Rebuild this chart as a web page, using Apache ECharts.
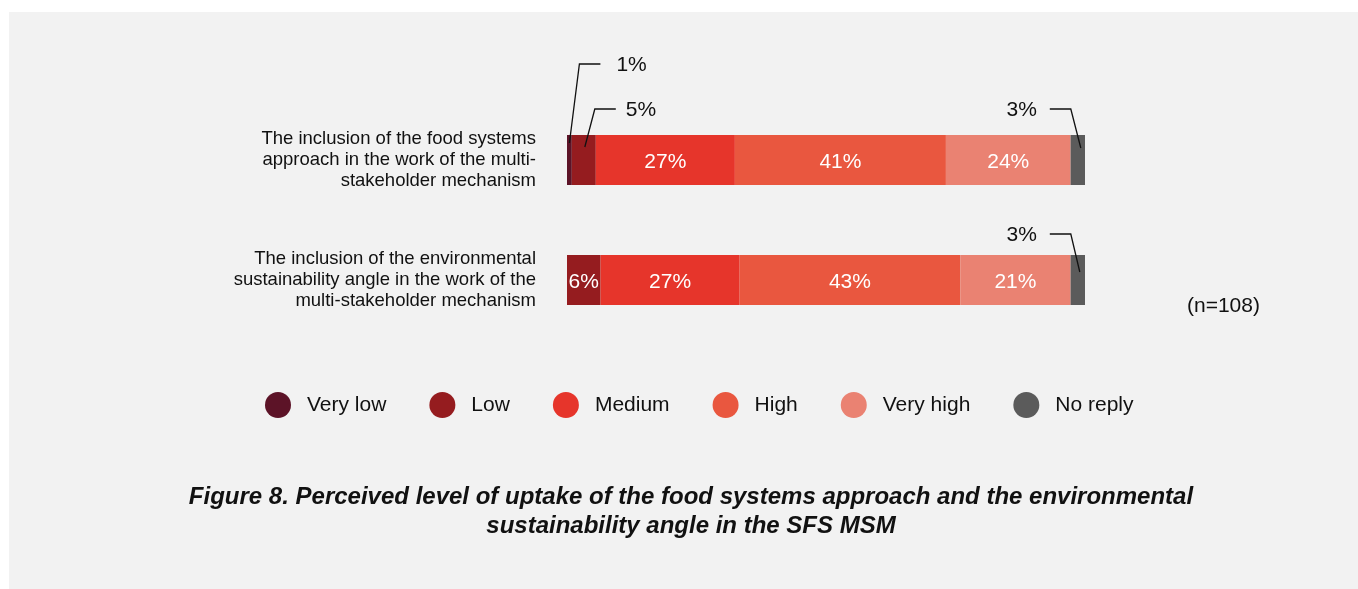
<!DOCTYPE html>
<html>
<head>
<meta charset="utf-8">
<script src="https://cdn.jsdelivr.net/npm/echarts@6/dist/echarts.min.js"></script>
<style>
  html, body { margin: 0; padding: 0; background: #ffffff; }
  #panel { position: absolute; left: 9px; top: 12px; width: 1349px; height: 577px; background: #f2f2f2; }
  #chart { position: absolute; left: 0; top: 0; width: 1358px; height: 589px; }
</style>
</head>
<body>
<div id="panel"></div>
<div id="chart"></div>
<script>
// ---- data ----
const categories = [
  "The inclusion of the food systems\napproach in the work of the multi-\nstakeholder mechanism",
  "The inclusion of the environmental\nsustainability angle in the work of the\nmulti-stakeholder mechanism"
];
const seriesNames = ["Very low", "Low", "Medium", "High", "Very high", "No reply"];
const veryLow  = [0.93, 0];
const low      = [4.63, 6.48];
const medium   = [26.85, 26.85];
const high     = [40.74, 42.59];
const veryHigh = [24.07, 21.30];
const noReply  = [2.78, 2.78];
const seriesValues = [veryLow, low, medium, high, veryHigh, noReply];
const colors = ["#5c1327", "#951c1f", "#e6352b", "#e9573f", "#ea8272", "#5b5b5b"];
const titleText = "Figure 8. Perceived level of uptake of the food systems approach and the environmental\nsustainability angle in the SFS MSM";
const noteText = "(n=108)";

// callouts for narrow segments (series index, row index, geometry offsets)
const callouts = [
  { s: 0, r: 0, ax: 0,  ay: 8,  ex: 10, ey: -71, len: 21,  tx: 16, dir: 1 },
  { s: 1, r: 0, ax: 1,  ay: 12, ex: 11, ey: -26, len: 21,  tx: 10, dir: 1 },
  { s: 5, r: 0, ax: 3,  ay: 13, ex: -7, ey: -26, len: -21, tx: -13, dir: -1 },
  { s: 5, r: 1, ax: 2,  ay: 17, ex: -7, ey: -21, len: -21, tx: -13, dir: -1 }
];

const FONT = "Arial, 'Liberation Sans', Helvetica, sans-serif";
const BAR_W = 50;
const chart = echarts.init(document.getElementById('chart'));

const series = seriesNames.map((name, i) => ({
  name: name,
  type: 'bar',
  stack: 'total',
  barWidth: BAR_W,
  data: seriesValues[i],
  itemStyle: { color: colors[i] },
  label: {
    show: true,
    position: 'inside',
    offset: [0, 2],
    color: '#ffffff',
    fontSize: 21,
    fontFamily: FONT,
    formatter: p => (p.value >= 5.5 ? Math.round(p.value) + '%' : '')
  },
  emphasis: { disabled: true },
  animation: false
}));

chart.setOption({
  backgroundColor: 'transparent',
  animation: false,
  title: {
    text: titleText,
    left: 686,
    top: 478,
    textAlign: 'center',
    textStyle: {
      fontFamily: FONT, fontSize: 24, fontWeight: 'bold', fontStyle: 'italic',
      color: '#111111', lineHeight: 29
    }
  },
  legend: {
    data: seriesNames,
    left: 265,
    top: 392,
    padding: 0,
    icon: 'circle',
    itemWidth: 26,
    itemHeight: 26,
    itemGap: 43,
    selectedMode: false,
    textStyle: { fontFamily: FONT, fontSize: 21, color: '#111111', padding: [0, 0, 0, 11] }
  },
  grid: { left: 567, right: 273, top: 100, height: 240, containLabel: false },
  xAxis: { type: 'value', min: 0, max: 100, show: false },
  yAxis: {
    type: 'category',
    data: categories,
    inverse: true,
    axisLine: { show: false },
    axisTick: { show: false },
    axisLabel: {
      margin: 31,
      fontFamily: FONT, fontSize: 18.5, lineHeight: 21, color: '#111111', align: 'right'
    }
  },
  series: series
});

// compute callout graphics from the library's scales
const graphics = [];
callouts.forEach(c => {
  let start = 0;
  for (let k = 0; k < c.s; k++) start += seriesValues[k][c.r];
  const v = seriesValues[c.s][c.r];
  const mid = chart.convertToPixel({ gridIndex: 0 }, [start + v / 2, c.r]);
  const top = mid[1] - BAR_W / 2;
  const a = [mid[0] + c.ax, top + c.ay];
  const e = [mid[0] + c.ex, top + c.ey];
  const end = [e[0] + c.len, e[1]];
  graphics.push({
    type: 'polyline',
    z: 100,
    shape: { points: [a, e, end] },
    style: { stroke: '#111111', lineWidth: 1.3, fill: null },
    silent: true
  });
  graphics.push({
    type: 'text',
    z: 100,
    x: end[0] + c.tx,
    y: e[1] + 1,
    style: {
      text: Math.round(v) + '%',
      fontFamily: FONT, fontSize: 21, fill: '#111111',
      align: c.dir > 0 ? 'left' : 'right',
      verticalAlign: 'middle'
    },
    silent: true
  });
});
graphics.push({
  type: 'text',
  x: 1187,
  y: 306,
  style: { text: noteText, fontFamily: FONT, fontSize: 21, fill: '#111111', align: 'left', verticalAlign: 'middle' },
  silent: true
});
chart.setOption({ graphic: graphics });
</script>
</body>
</html>
